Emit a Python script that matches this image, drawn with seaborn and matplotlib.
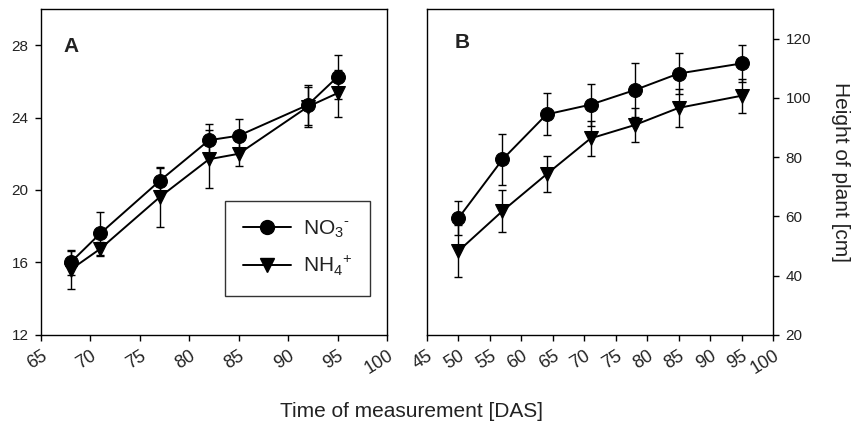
import numpy as np
import pandas as pd
import seaborn as sns
import matplotlib.pyplot as plt

# panel A data (days after sowing)
days_a = [68, 71, 77, 82, 85, 92, 95]
no3_a = [16.0, 17.6, 20.5, 22.75, 23.0, 24.7, 26.25]
no3_a_err = [0.7, 1.2, 0.7, 0.9, 0.9, 1.1, 1.2]
nh4_a = [15.6, 16.75, 19.6, 21.7, 22.0, 24.6, 25.35]
nh4_a_err = [1.05, 0.4, 1.65, 1.6, 0.7, 1.1, 1.3]

# panel B data
days_b = [50, 57, 64, 71, 78, 85, 95]
no3_b = [59.4, 79.2, 94.4, 97.7, 102.6, 108.2, 111.6]
no3_b_err = [5.7, 8.7, 7.1, 7.1, 9.0, 6.8, 6.2]
nh4_b = [48.3, 61.8, 74.2, 86.3, 90.8, 96.6, 100.7]
nh4_b_err = [8.8, 7.2, 6.1, 5.9, 5.7, 6.4, 5.7]

sns.set_style('ticks')
plt.rcParams['font.family'] = ['Liberation Sans', 'DejaVu Sans']
plt.rcParams['mathtext.fontset'] = 'custom'
plt.rcParams['mathtext.rm'] = 'Liberation Sans'

text_col = '#222222'

fig = plt.figure(figsize=(8.53, 4.26), dpi=100)
ax_a = fig.add_axes([0.048, 0.214, 0.4057, 0.765])
ax_b = fig.add_axes([0.5006, 0.214, 0.4056, 0.765])


def rotate_xlabels(ax):
    for lab in ax.get_xticklabels():
        lab.set_rotation(32)
        lab.set_ha('right')
        lab.set_rotation_mode('anchor')


def draw_panel(ax, days, no3, no3_err, nh4, nh4_err):
    df = pd.concat([
        pd.DataFrame({'day': days, 'height': no3, 'form': 'NO3'}),
        pd.DataFrame({'day': days, 'height': nh4, 'form': 'NH4'}),
    ])
    ax.errorbar(days, no3, yerr=no3_err, fmt='none', ecolor='black',
                elinewidth=1, capsize=2.6, capthick=1, zorder=2)
    ax.errorbar(days, nh4, yerr=nh4_err, fmt='none', ecolor='black',
                elinewidth=1, capsize=2.6, capthick=1, zorder=2)
    sns.lineplot(data=df, x='day', y='height', hue='form', style='form',
                 markers={'NO3': 'o', 'NH4': 'v'}, dashes=False,
                 palette={'NO3': 'black', 'NH4': 'black'},
                 markersize=10, markeredgecolor='black', linewidth=1.4,
                 legend=False, ax=ax, zorder=3)
    for s in ax.spines.values():
        s.set_visible(True)
        s.set_color('black')
        s.set_linewidth(1)
    ax.set_xlabel('')
    ax.set_ylabel('')
    ax.tick_params(axis='both', direction='out', length=4, width=1,
                   color='black', labelcolor=text_col)
    ax.tick_params(axis='x', labelsize=13, pad=5)
    ax.tick_params(axis='y', labelsize=11, pad=5)


draw_panel(ax_a, days_a, no3_a, no3_a_err, nh4_a, nh4_a_err)
ax_a.set_xlim(65, 100)
ax_a.set_ylim(12, 30)
ax_a.set_xticks(np.arange(65, 101, 5))
ax_a.set_yticks([12, 16, 20, 24, 28])
rotate_xlabels(ax_a)
ax_a.text(0.064, 0.884, 'A', transform=ax_a.transAxes, fontsize=15,
          fontweight='bold', va='center', color=text_col)

# legend drawn with proxy lines
h1, = ax_a.plot([], [], color='black', marker='o', markersize=10, lw=1.4)
h2, = ax_a.plot([], [], color='black', marker='v', markersize=10, lw=1.4)
leg = ax_a.legend([h1, h2], [r'NO$_3{}^{\text{-}}$', r'NH$_4{}^{+}$'],
                  loc='upper left', bbox_to_anchor=(0.532, 0.411),
                  borderaxespad=0, fontsize=15, frameon=True,
                  fancybox=False, handlelength=2.3, handletextpad=0.6,
                  borderpad=0.85, labelspacing=0.65)
leg.get_frame().set_edgecolor('black')
leg.get_frame().set_linewidth(1)
for t in leg.get_texts():
    t.set_color(text_col)

draw_panel(ax_b, days_b, no3_b, no3_b_err, nh4_b, nh4_b_err)
ax_b.set_xlim(45, 100)
ax_b.set_ylim(20, 130)
ax_b.set_xticks(np.arange(45, 101, 5))
ax_b.set_yticks([20, 40, 60, 80, 100, 120])
ax_b.yaxis.tick_right()
ax_b.yaxis.set_label_position('right')
ax_b.tick_params(axis='y', left=False, right=True)
rotate_xlabels(ax_b)
ax_b.set_ylabel('Height of plant [cm]', fontsize=15, rotation=270,
                labelpad=28, color=text_col)
ax_b.text(0.081, 0.898, 'B', transform=ax_b.transAxes, fontsize=15,
          fontweight='bold', va='center', color=text_col)

fig.text(0.483, 0.033, 'Time of measurement [DAS]', ha='center',
         va='center', fontsize=15, color=text_col)

fig.savefig('out.png', dpi=100)
